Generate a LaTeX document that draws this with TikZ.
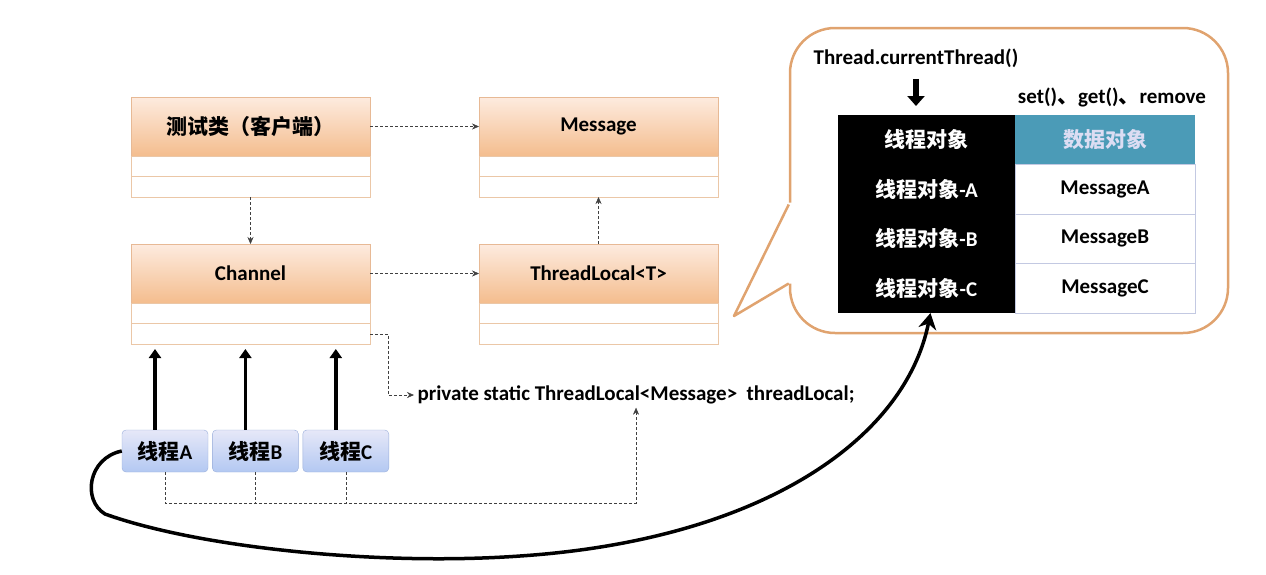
\documentclass[tikz,border=0pt]{standalone}
\usepackage{fontspec}
\setmainfont{Carlito}
\newfontfamily\cjk{Noto Sans CJK SC}
\usetikzlibrary{arrows,arrows.meta,positioning}

\definecolor{clstop}{HTML}{FDEBDF}
\definecolor{clsbot}{HTML}{F4BD8E}
\definecolor{clsline}{HTML}{E7B995}
\definecolor{rowline}{HTML}{EBC7A7}
\definecolor{thrtop}{HTML}{E6E8F8}
\definecolor{thrbot}{HTML}{B3C8F2}
\definecolor{thrline}{HTML}{9AAEDA}
\definecolor{bubline}{HTML}{E0A36F}
\definecolor{teal}{HTML}{4B9BB7}
\definecolor{tealtxt}{HTML}{DCDDF3}
\definecolor{tblline}{HTML}{C3C9E2}

\newcommand{\txt}{\fontsize{21}{25}\selectfont\bfseries}
\newcommand{\smtxt}{\fontsize{21}{25}\selectfont\bfseries}

\begin{document}
\begin{tikzpicture}[x=1pt,y=-1pt,>={Stealth[length=7pt,width=6pt]},
      cls/.style={rectangle,draw=clsline,top color=clstop,bottom color=clsbot,
        minimum width=239pt,minimum height=59pt,outer sep=0pt,font=\txt},
      row/.style={rectangle,draw=rowline,fill=white,minimum width=239pt,
        minimum height=20.5pt,outer sep=0pt},
      thr/.style={rectangle,rounded corners=4pt,draw=thrline,top color=thrtop,
        bottom color=thrbot,minimum width=86pt,minimum height=42pt,font=\txt},
      cell/.style={rectangle,minimum width=177pt,minimum height=49.5pt,outer sep=0pt,font=\txt},
      dcell/.style={cell,minimum width=180pt},
      dep/.style={->,densely dashed,thin,black!75},
      big/.style={-{Triangle[length=9pt,width=12pt]},line width=3.5pt},
      bubble/.style={rectangle,rounded corners=45pt,draw=bubline,line width=2.5pt,
        minimum width=438pt,minimum height=305pt}]
      \useasboundingbox (0,0) rectangle (1266,574);

      % class boxes
      \node[cls] (tst) at (250.5,126.5) {{\cjk 测试类（客户端）}};
      \node[row,below=0pt of tst] (tst1) {};
      \node[row,below=0pt of tst1] (tst2) {};
      \node[cls] (msg) at (598.5,126.5) {Message};
      \node[row,below=0pt of msg] (msg1) {};
      \node[row,below=0pt of msg1] (msg2) {};
      \node[cls] (chn) at (250.5,273.5) {Channel};
      \node[row,below=0pt of chn] (chn1) {};
      \node[row,below=0pt of chn1] (chn2) {};
      \node[cls] (tl) at (598.5,273.5) {ThreadLocal<T>};
      \node[row,below=0pt of tl] (tl1) {};
      \node[row,below=0pt of tl1] (tl2) {};

      \draw[dep] (tst.east) -- (msg.west);
      \draw[dep] (tst2.south) -- (chn.north);
      \draw[dep] (chn.east) -- (tl.west);
      \draw[dep] (tl.north) -- (msg2.south);

      % threads
      \node[thr] (ta) at (165,451) {{\cjk 线程}A};
      \node[thr,right=4pt of ta] (tb) {{\cjk 线程}B};
      \node[thr,right=4pt of tb] (tc) {{\cjk 线程}C};
      \foreach \t in {ta,tb,tc}
        \draw[big,shorten >=5pt] ([xshift=-10pt]\t.north) -- ([xshift=-10pt]\t.north |- chn2.south);

      \node[font=\smtxt,anchor=west] (decl) at (414,395)
        {private static ThreadLocal<Message>\ \ threadLocal;};
      \draw[dep] (chn2.east) -- ++(18,0) |- (decl.west);
      \draw[dep] (ta.south) -- ++(0,31) -| (decl.south);
      \draw[densely dashed,thin,black!75] (tb.south) -- ++(0,31);
      \draw[densely dashed,thin,black!75] (tc.south) -- ++(0,31);

      % callout
      \node[bubble] (bub) at (1009,180.5) {};
      \coordinate (tip) at (734,316);
      \fill[white] ([yshift=-22pt]bub.west) -- (tip) -- ([yshift=-103pt]bub.west)
        -- ([xshift=6pt,yshift=-103pt]bub.west) -- ([xshift=6pt,yshift=-22pt]bub.west) -- cycle;
      \draw[bubline,line width=2.5pt,line join=round]
        ([yshift=-24pt]bub.west) -- (tip) -- ([yshift=-103pt]bub.west);

      \node[font=\smtxt] (cur) at (916,58) {Thread.currentThread()};
      \node[font=\smtxt] (ops) at (1112,97) {set(){\cjk 、}get(){\cjk 、}remove};

      \node[cell,fill=black,text=white] (lc0) at (926.5,139.75) {{\cjk 线程对象}};
      \node[cell,fill=black,text=white,below=0pt of lc0] (lc1) {{\cjk 线程对象}-A};
      \node[cell,fill=black,text=white,below=0pt of lc1] (lc2) {{\cjk 线程对象}-B};
      \node[cell,fill=black,text=white,below=0pt of lc2] (lc3) {{\cjk 线程对象}-C};
      \node[dcell,fill=teal,text=tealtxt,right=0pt of lc0] (rc0) {{\cjk 数据对象}};
      \node[dcell,draw=tblline,fill=white,right=0pt of lc1] (rc1) {MessageA};
      \node[dcell,draw=tblline,fill=white,right=0pt of lc2] (rc2) {MessageB};
      \node[dcell,draw=tblline,fill=white,right=0pt of lc3] (rc3) {MessageC};

      \draw[-{Triangle[length=10pt,width=17pt]},line width=6pt,shorten <=8pt,shorten >=9pt]
        (cur.south) -- (cur.south |- lc0.north);

      % thread -> thread object
      \draw[-{Stealth[length=16pt,width=18pt]},line width=3.5pt]
        (ta.west) .. controls (88,458) and (82,500) .. (105,514)
        .. controls (200,548) and (380,566) .. (520,556)
        .. controls (760,540) and (905,440) .. ([xshift=4pt]lc3.south);
    \end{tikzpicture}
\end{document}
